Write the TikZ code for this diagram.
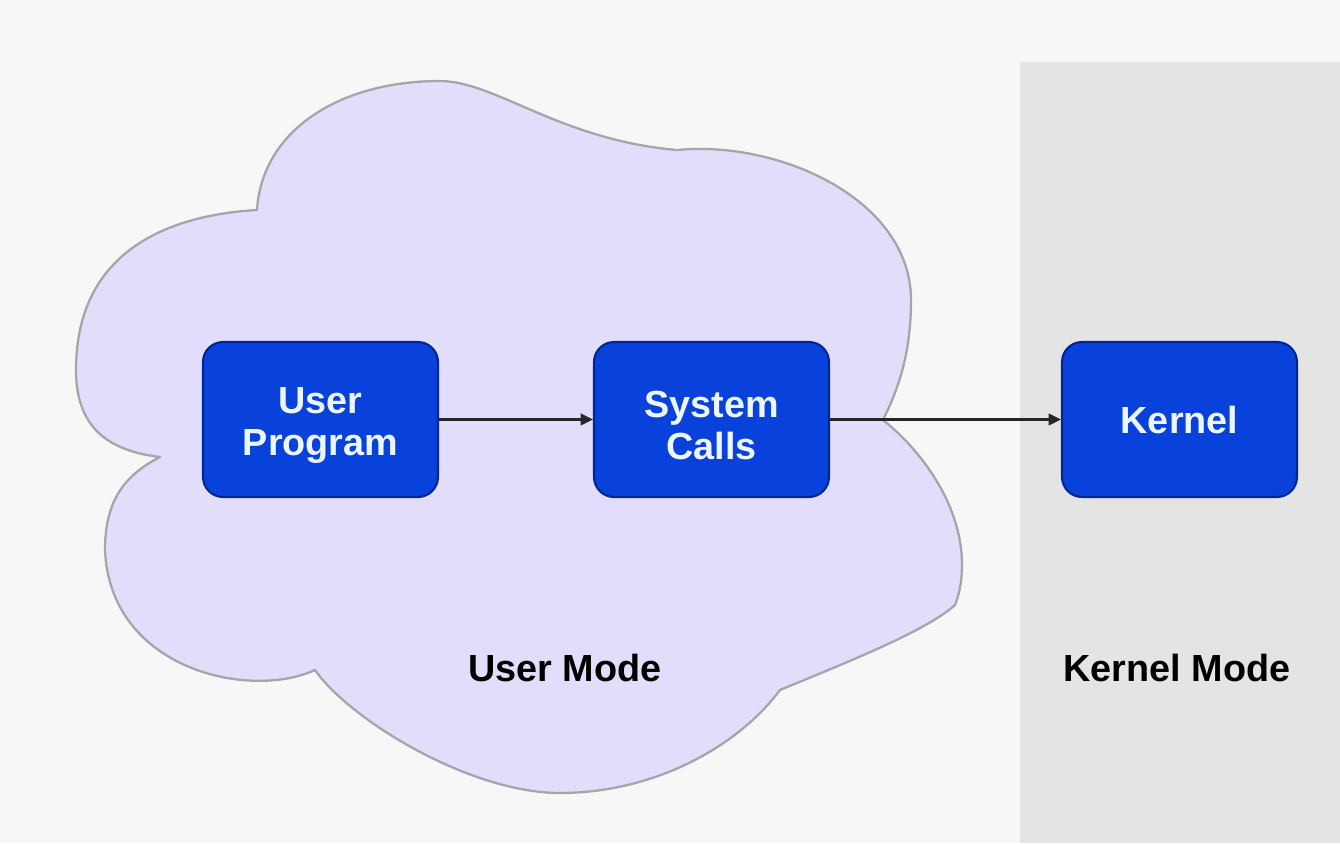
\documentclass[tikz,border=0pt]{standalone}
\usepackage{fontspec}
\setmainfont{Liberation Sans}
\usetikzlibrary{arrows.meta}

\definecolor{pagebg}{RGB}{247,247,247}
\definecolor{kernelbg}{RGB}{228,228,228}
\definecolor{cloudfill}{RGB}{226,221,251}
\definecolor{cloudline}{RGB}{165,165,170}
\definecolor{boxfill}{RGB}{8,66,218}
\definecolor{boxline}{RGB}{0,38,150}
\definecolor{boxtext}{RGB}{236,246,255}

\tikzset{
  procbox/.style={rectangle, rounded corners=0.4cm, fill=boxfill, draw=boxline,
    line width=1.2pt, minimum width=4.7cm, minimum height=3.1cm, inner sep=0pt},
  boxlabel/.style={align=center, text=boxtext, inner sep=0pt,
    font=\bfseries\fontsize{21.5}{24.2}\selectfont},
  modelabel/.style={font=\bfseries\fontsize{21.5}{24.5}\selectfont, text=black, inner sep=0pt},
  flow/.style={draw=black!85, line width=1.5pt, -{Triangle[length=7pt,width=6.5pt]}}
}

\begin{document}
\begin{tikzpicture}[x=0.02cm, y=-0.02cm]
  % page and kernel-mode panel
  \fill[pagebg] (0,0) rectangle (1340,843);
  \useasboundingbox (0,0) rectangle (1340,843);
  \fill[kernelbg] (1020,62) rectangle (1340,843);

  % user-mode cloud: each bump runs from notch to notch
  \filldraw[fill=cloudfill, draw=cloudline, line width=1.3pt, line join=round]
    (257,210) .. controls (262,130) and (340,81) .. (440,81)
              .. controls (495,81) and (560,140) .. (677,150)
              .. controls (780,140) and (911,200) .. (911,300)
              .. controls (911,360) and (895,395) .. (883,420)
              .. controls (915,445) and (962,500) .. (962,565)
              .. controls (962,585) and (958,597) .. (955,605)
              .. controls (925,632) and (840,665) .. (780,690)
              .. controls (735,750) and (650,793) .. (560,793)
              .. controls (470,793) and (350,720) .. (315,670)
              .. controls (250,700) and (110,670) .. (105,550)
              .. controls (105,500) and (125,475) .. (160,457)
              .. controls (100,450) and (76,420) .. (76,370)
              .. controls (76,250) and (170,215) .. (257,210)
    -- cycle;

  % processing stages
  \node[procbox] (user)   at (320.5,419.5) {};
  \node[procbox] (sys)    at (711.5,419.5) {};
  \node[procbox] (kernel) at (1179.5,419.5) {};
  \node[boxlabel] (userlbl)   at ([yshift=-0.12cm]user.center) {User\\Program};
  \node[boxlabel] (syslbl)    at ([yshift=-0.12cm]sys.center) {System\\Calls};
  \node[boxlabel] (kernellbl) at (kernel.center) {Kernel};

  % mode captions
  \node[modelabel] (umode) at (565,668) {User Mode};
  \node[modelabel] (kmode) at (1177,668) {Kernel Mode};

  % call flow
  \draw[flow] (user.east) -- (sys.west);
  \draw[flow] (sys.east) -- (kernel.west);
\end{tikzpicture}
\end{document}
